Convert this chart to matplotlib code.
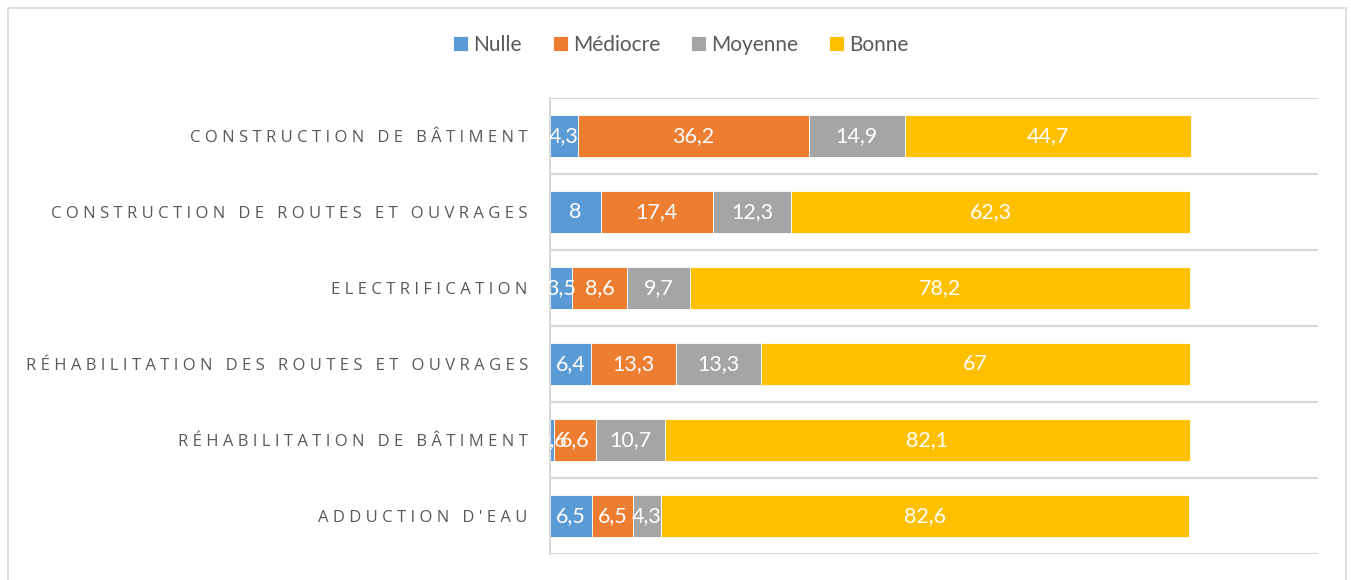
import matplotlib
matplotlib.use("Agg")
import matplotlib.pyplot as plt
from matplotlib.patches import Rectangle

# data, top row first as in the picture
categories = [
    "Construction de bâtiment",
    "Construction de routes et ouvrages",
    "Electrification",
    "Réhabilitation des routes et ouvrages",
    "Réhabilitation de bâtiment",
    "Adduction d'eau",
]
series = ["Nulle", "Médiocre", "Moyenne", "Bonne"]
nulle = [4.3, 8, 3.5, 6.4, 0.6, 6.5]
mediocre = [36.2, 17.4, 8.6, 13.3, 6.6, 6.5]
moyenne = [14.9, 12.3, 9.7, 13.3, 10.7, 4.3]
bonne = [44.7, 62.3, 78.2, 67, 82.1, 82.6]
colors = ["#5B9BD5", "#ED7D31", "#A5A5A5", "#FFC000"]

text_grey = "#595959"
grid_grey = "#D9D9D9"


def fmt(v):
    # french style decimal comma, integers shown bare
    if float(v).is_integer():
        return str(int(v))
    return ("%.1f" % v).replace(".", ",")


def spaced(s):
    # imitate excel letter spacing on the category axis
    return "\u2009\u200a".join(s.upper())


W, H = 1351, 580
fig = plt.figure(figsize=(W / 100, H / 100), dpi=100)
ax = fig.add_axes([550 / W, 1 - 554 / H, (1318 - 550) / W, (554 - 98) / H])

ypos = list(range(len(categories)))
left = [0] * len(categories)
for name, vals, col in zip(series, [nulle, mediocre, moyenne, bonne], colors):
    bars = ax.barh(ypos, vals, left=left, height=0.56, color=col,
                   edgecolor="white", linewidth=0.6, label=name)
    for b, v in zip(bars, vals):
        ax.text(b.get_x() + b.get_width() / 2, b.get_y() + b.get_height() / 2,
                fmt(v), ha="center", va="center", color="white",
                fontsize=15.5, family=["Lato", "DejaVu Sans"], clip_on=False)
    left = [l + v for l, v in zip(left, vals)]

ax.set_xlim(0, 120)
ax.set_ylim(len(categories) - 0.5, -0.5)
ax.set_xticks([])
ax.set_yticks(ypos)
ax.set_yticklabels([spaced(c) for c in categories], color=text_grey,
                   fontsize=12, family=["Open Sans", "DejaVu Sans"])
ax.tick_params(axis="y", length=0, pad=16)

# separators between categories
for y in [i - 0.5 for i in range(len(categories) + 1)]:
    ax.axhline(y, color=grid_grey, lw=1.5, zorder=0)
for side in ["top", "right", "bottom"]:
    ax.spines[side].set_visible(False)
ax.spines["left"].set_color(grid_grey)
ax.spines["left"].set_linewidth(1.5)

fig.legend(loc="center", bbox_to_anchor=(681 / W, 1 - 45 / H), ncol=4,
           frameon=False, handlelength=0.7, handleheight=0.7,
           handletextpad=0.25, columnspacing=1.5,
           prop={"family": ["Lato", "DejaVu Sans"], "size": 15},
           labelcolor=text_grey)

# chart border
fig.patches.append(Rectangle((8 / W, -0.02), (1346 - 8) / W, 1.02 - 8 / H,
                             transform=fig.transFigure, fill=False,
                             edgecolor=grid_grey, lw=1.2))

fig.savefig("out.png", dpi=100)
